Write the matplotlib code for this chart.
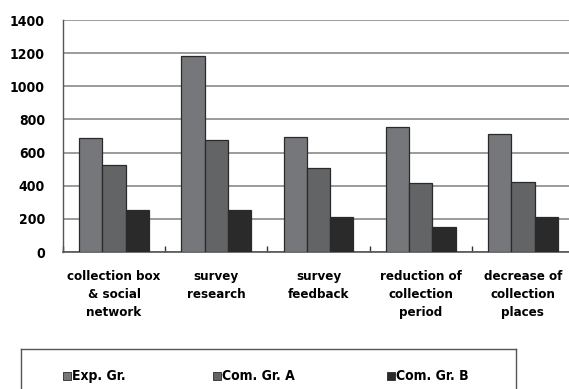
import matplotlib
matplotlib.use("Agg")
import matplotlib.pyplot as plt
import numpy as np

categories = ["collection box\n& social\nnetwork", "survey\nresearch", "survey\nfeedback",
              "reduction of\ncollection\nperiod", "decrease of\ncollection\nplaces"]
series_names = ["Exp. Gr.", "Com. Gr. A", "Com. Gr. B"]
exp_gr = [686, 1183, 696, 752, 710]
com_a = [525, 674, 505, 416, 424]
com_b = [253, 253, 213, 151, 209]
y_ticks = [0, 200, 400, 600, 800, 1000, 1200, 1400]

colors = ["#76777a", "#636466", "#2b2a2b"]
FONT = ["DejaVu Sans"]
STRETCH = "condensed"

W, H = 569, 389
fig = plt.figure(figsize=(W / 100, H / 100), dpi=100)
left, right, top, bottom = 63, 574, 20, 252
ax = fig.add_axes([left / W, 1 - bottom / H, (right - left) / W, (bottom - top) / H])

x = np.arange(len(categories))
bw = 0.228
for i, vals in enumerate([exp_gr, com_a, com_b]):
    ax.bar(x + (i - 1) * bw, vals, width=bw, color=colors[i],
           edgecolor="#2a2a2a", linewidth=0.9, zorder=3)

ax.set_xlim(-0.5, len(categories) - 0.5)
ax.set_ylim(0, 1400)
ax.set_yticks(y_ticks)
ax.set_yticklabels([str(v) for v in y_ticks], fontsize=10, fontweight="bold",
                   family=FONT, fontstretch=STRETCH)
ax.yaxis.grid(True, color="#8a8a8a", linewidth=1.2, zorder=0)
ax.tick_params(axis="y", length=0, pad=13)

ax.set_xticks(x)
ax.set_xticklabels(categories, fontsize=9.5, fontweight="bold", family=FONT,
                   fontstretch=STRETCH, linespacing=1.5)
ax.tick_params(axis="x", length=0, pad=13)
ax.set_xticks(np.arange(len(categories) + 1) - 0.5, minor=True)
ax.tick_params(axis="x", which="minor", direction="in", length=4, width=1,
               color="#333333")

for s in ["top", "right"]:
    ax.spines[s].set_visible(False)
ax.spines["left"].set_color("#555555")
ax.spines["bottom"].set_color("#555555")
ax.spines["left"].set_linewidth(1.0)
ax.spines["bottom"].set_linewidth(1.2)

# legend box along the bottom
lax = fig.add_axes([21 / W, -0.2, (516 - 21) / W, 0.2 + (H - 349) / H])
lax.set_xlim(0, 1)
lax.set_ylim(0, 1)
lax.set_xticks([])
lax.set_yticks([])
for s in lax.spines.values():
    s.set_color("#555555")
    s.set_linewidth(1.0)
lx_px = [63, 213, 387]
ly = (H - 376) / H
for i, name in enumerate(series_names):
    fx = lx_px[i] / W
    fig.patches.append(plt.Rectangle((fx, ly - 4 / H), 7.5 / W, 8 / H,
                                     transform=fig.transFigure, facecolor=colors[i],
                                     edgecolor="#2a2a2a", linewidth=0.6))
    fig.text(fx + 9.5 / W, ly, name, fontsize=10, fontweight="bold", family=FONT,
             fontstretch=STRETCH, va="center", ha="left")

fig.savefig("out.png", dpi=100)
